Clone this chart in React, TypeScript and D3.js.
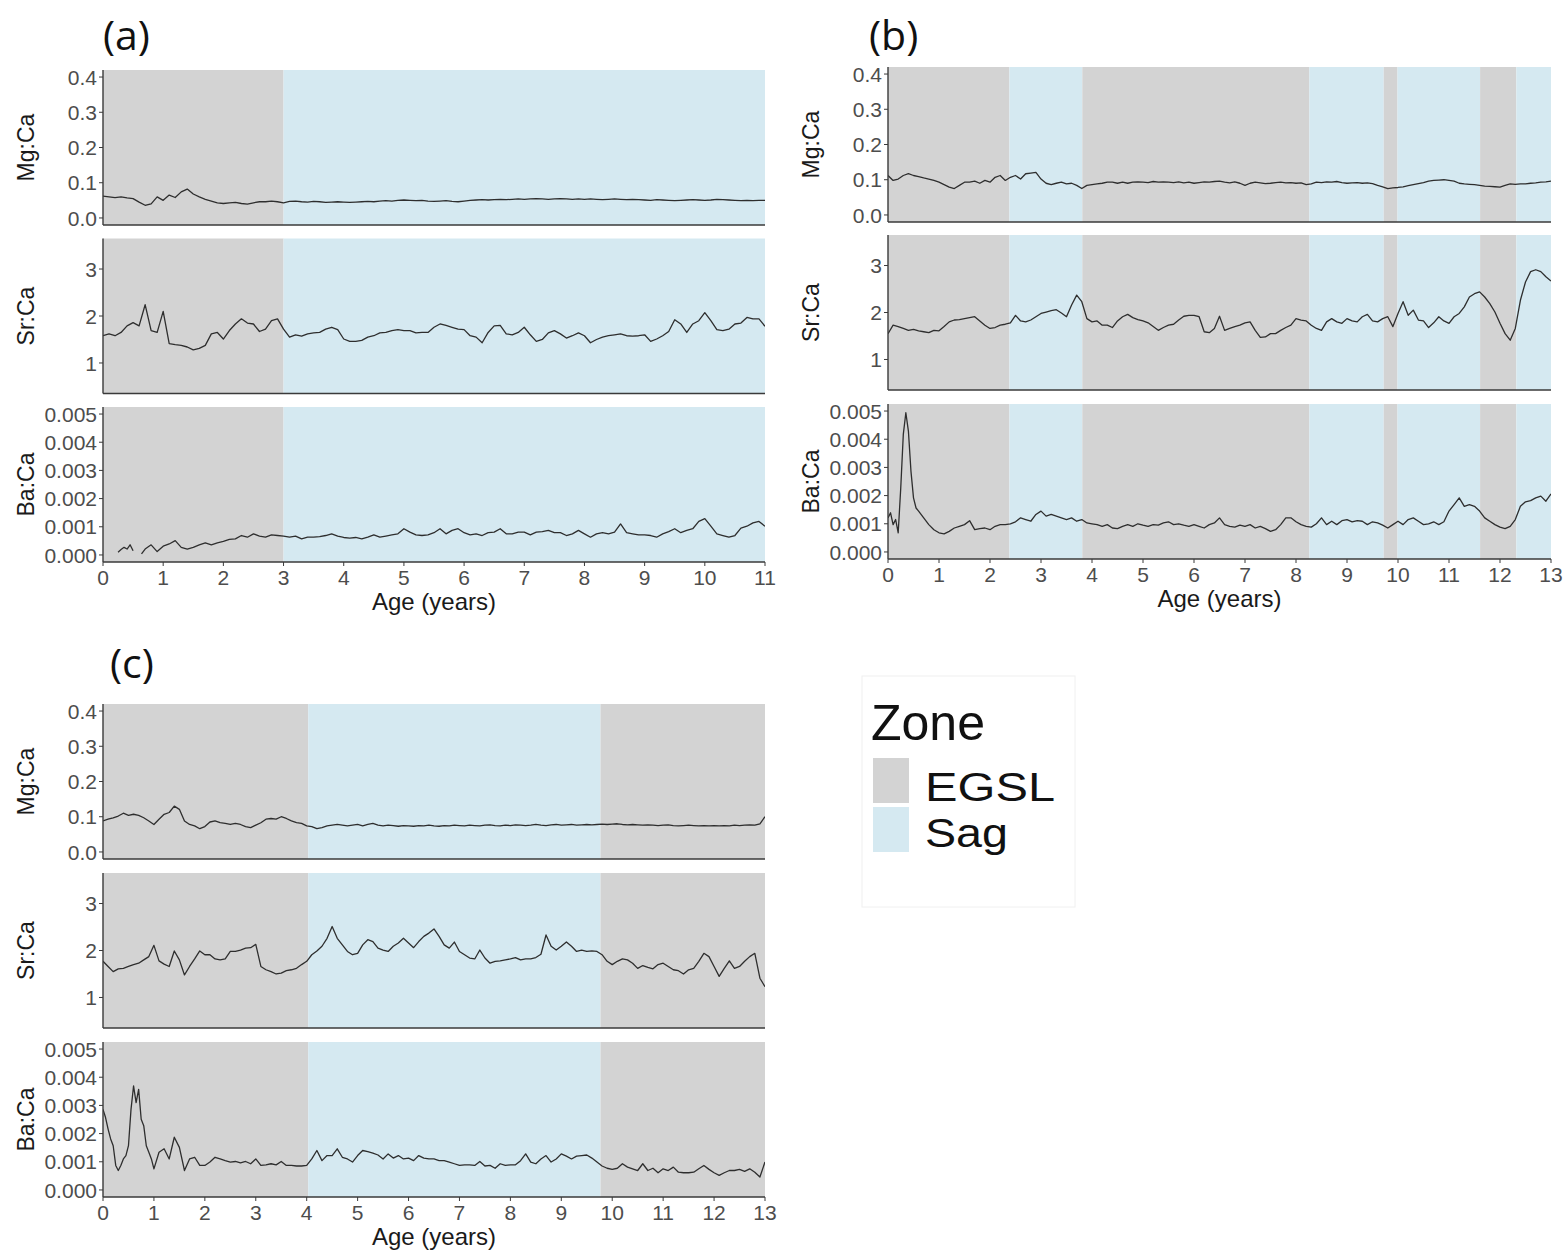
import React from "react";
import * as d3 from "d3";

// ---------------- DATA ----------------
const ZONE_NAMES = ["EGSL", "Sag"];
const VARIABLES = ["Mg:Ca", "Sr:Ca", "Ba:Ca"];
const MG_TICKS = [0, 0.1, 0.2, 0.3, 0.4];
const SR_TICKS = [1, 2, 3];
const BA_TICKS = [0, 0.001, 0.002, 0.003, 0.004, 0.005];
const AGE_TICKS_A = [0, 1, 2, 3, 4, 5, 6, 7, 8, 9, 10, 11];
const AGE_TICKS_BC = [0, 1, 2, 3, 4, 5, 6, 7, 8, 9, 10, 11, 12, 13];
const BA_UNIT = 0.001;
const STEP = 0.1;

// zones: [start, end, zone]
const ZONES_A: [number, number, string][] = [[0, 3.0, "EGSL"], [3.0, 11, "Sag"]];
const ZONES_B: [number, number, string][] = [
  [0, 2.38, "EGSL"], [2.38, 3.81, "Sag"], [3.81, 8.26, "EGSL"], [8.26, 9.72, "Sag"],
  [9.72, 9.99, "EGSL"], [9.99, 11.61, "Sag"], [11.61, 12.32, "EGSL"], [12.32, 13, "Sag"],
];
const ZONES_C: [number, number, string][] = [[0, 4.03, "EGSL"], [4.03, 9.77, "Sag"], [9.77, 13, "EGSL"]];

// Mg:Ca, sampled every 0.1 year from age 0
const MG_A = [
  0.062, 0.060, 0.058, 0.060, 0.057, 0.055, 0.045, 0.036, 0.040, 0.060,
  0.050, 0.065, 0.058, 0.074, 0.082, 0.068, 0.060, 0.053, 0.048, 0.043,
  0.041, 0.043, 0.044, 0.041, 0.039, 0.043, 0.046, 0.046, 0.048, 0.046,
  0.043, 0.047, 0.048, 0.046, 0.045, 0.047, 0.046, 0.044, 0.045, 0.046,
  0.045, 0.044, 0.045, 0.046, 0.047, 0.046, 0.048, 0.049, 0.048, 0.050,
  0.051, 0.050, 0.049, 0.050, 0.048, 0.047, 0.048, 0.049, 0.047, 0.046,
  0.048, 0.050, 0.051, 0.052, 0.051, 0.052, 0.053, 0.052, 0.053, 0.054,
  0.053, 0.054, 0.055, 0.054, 0.053, 0.054, 0.055, 0.054, 0.053, 0.054,
  0.053, 0.054, 0.053, 0.052, 0.053, 0.054, 0.053, 0.052, 0.053, 0.052,
  0.051, 0.050, 0.052, 0.051, 0.050, 0.049, 0.050, 0.051, 0.052, 0.051,
  0.050, 0.051, 0.053, 0.052, 0.051, 0.050, 0.049, 0.050, 0.049, 0.050,
  0.050,
];
const MG_B = [
  0.112, 0.098, 0.102, 0.112, 0.117, 0.112, 0.109, 0.105, 0.102, 0.098,
  0.093, 0.086, 0.079, 0.075, 0.084, 0.093, 0.093, 0.096, 0.090, 0.098,
  0.093, 0.107, 0.112, 0.098, 0.107, 0.112, 0.102, 0.117, 0.119, 0.121,
  0.102, 0.090, 0.086, 0.090, 0.093, 0.088, 0.090, 0.084, 0.075, 0.084,
  0.086, 0.088, 0.090, 0.093, 0.093, 0.090, 0.093, 0.090, 0.093, 0.094,
  0.093, 0.092, 0.095, 0.093, 0.094, 0.093, 0.092, 0.094, 0.091, 0.093,
  0.090, 0.092, 0.094, 0.093, 0.095, 0.096, 0.093, 0.091, 0.094, 0.090,
  0.084, 0.090, 0.093, 0.091, 0.089, 0.090, 0.092, 0.093, 0.091, 0.092,
  0.090, 0.091, 0.086, 0.088, 0.093, 0.092, 0.094, 0.093, 0.095, 0.092,
  0.090, 0.091, 0.092, 0.090, 0.091, 0.089, 0.084, 0.080, 0.075, 0.077,
  0.078, 0.080, 0.083, 0.086, 0.089, 0.092, 0.096, 0.098, 0.099, 0.100,
  0.098, 0.096, 0.090, 0.088, 0.087, 0.086, 0.084, 0.082, 0.081, 0.080,
  0.079, 0.084, 0.088, 0.087, 0.088, 0.088, 0.090, 0.091, 0.093, 0.094,
  0.096,
];
const MG_C = [
  0.088, 0.093, 0.097, 0.102, 0.110, 0.104, 0.107, 0.104, 0.097, 0.088,
  0.078, 0.093, 0.107, 0.112, 0.130, 0.121, 0.088, 0.078, 0.074, 0.066,
  0.072, 0.085, 0.088, 0.083, 0.081, 0.078, 0.081, 0.078, 0.072, 0.069,
  0.076, 0.083, 0.093, 0.095, 0.093, 0.100, 0.095, 0.088, 0.083, 0.081,
  0.074, 0.072, 0.066, 0.069, 0.074, 0.076, 0.078, 0.076, 0.074, 0.076,
  0.078, 0.074, 0.078, 0.081, 0.076, 0.074, 0.076, 0.075, 0.073, 0.075,
  0.074, 0.073, 0.075, 0.074, 0.076, 0.074, 0.073, 0.075, 0.074, 0.076,
  0.075, 0.074, 0.076, 0.075, 0.074, 0.076, 0.077, 0.075, 0.074, 0.076,
  0.075, 0.077, 0.076, 0.075, 0.076, 0.078, 0.076, 0.075, 0.077, 0.078,
  0.076, 0.077, 0.078, 0.076, 0.077, 0.078, 0.077, 0.078, 0.079, 0.078,
  0.079, 0.080, 0.078, 0.077, 0.078, 0.077, 0.076, 0.077, 0.076, 0.075,
  0.076, 0.077, 0.075, 0.074, 0.075, 0.076, 0.075, 0.074, 0.075, 0.074,
  0.075, 0.074, 0.075, 0.074, 0.076, 0.075, 0.076, 0.077, 0.076, 0.080,
  0.100,
];

// Sr:Ca, every 0.1 year from age 0
const SR_A = [
  1.58, 1.62, 1.58, 1.65, 1.79, 1.86, 1.79, 2.24, 1.69, 1.65,
  2.10, 1.41, 1.39, 1.375, 1.34, 1.28, 1.31, 1.375, 1.62, 1.65,
  1.51, 1.69, 1.83, 1.94, 1.85, 1.83, 1.67, 1.72, 1.90, 1.94,
  1.72, 1.55, 1.60, 1.57, 1.62, 1.64, 1.65, 1.72, 1.76, 1.71,
  1.51, 1.46, 1.46, 1.48, 1.55, 1.58, 1.64, 1.65, 1.69, 1.71,
  1.69, 1.69, 1.64, 1.65, 1.65, 1.76, 1.83, 1.80, 1.76, 1.72,
  1.71, 1.58, 1.55, 1.43, 1.65, 1.79, 1.80, 1.62, 1.60, 1.65,
  1.76, 1.60, 1.46, 1.50, 1.64, 1.69, 1.62, 1.53, 1.58, 1.64,
  1.58, 1.43, 1.50, 1.55, 1.58, 1.60, 1.62, 1.58, 1.57, 1.58,
  1.60, 1.46, 1.51, 1.58, 1.67, 1.92, 1.83, 1.65, 1.83, 1.90,
  2.07, 1.90, 1.71, 1.69, 1.72, 1.83, 1.85, 1.97, 1.94, 1.94,
  1.78,
];
const SR_B = [
  1.55, 1.73, 1.70, 1.66, 1.62, 1.64, 1.61, 1.59, 1.57, 1.62,
  1.61, 1.70, 1.80, 1.84, 1.85, 1.87, 1.89, 1.91, 1.82, 1.73,
  1.66, 1.68, 1.73, 1.75, 1.78, 1.94, 1.82, 1.80, 1.84, 1.91,
  1.98, 2.01, 2.04, 2.06, 1.99, 1.91, 2.16, 2.37, 2.23, 1.87,
  1.80, 1.82, 1.73, 1.73, 1.68, 1.82, 1.91, 1.96, 1.89, 1.85,
  1.82, 1.78, 1.70, 1.62, 1.68, 1.73, 1.75, 1.84, 1.92, 1.94,
  1.94, 1.91, 1.59, 1.57, 1.66, 1.92, 1.62, 1.66, 1.70, 1.73,
  1.78, 1.80, 1.62, 1.47, 1.48, 1.55, 1.55, 1.62, 1.68, 1.73,
  1.87, 1.84, 1.82, 1.73, 1.66, 1.62, 1.80, 1.87, 1.80, 1.77,
  1.87, 1.82, 1.80, 1.91, 1.96, 1.82, 1.80, 1.87, 1.91, 1.70,
  1.98, 2.23, 1.94, 2.05, 1.84, 1.82, 1.68, 1.78, 1.91, 1.82,
  1.77, 1.91, 1.98, 2.12, 2.33, 2.40, 2.44, 2.33, 2.19, 2.01,
  1.77, 1.55, 1.41, 1.66, 2.26, 2.65, 2.87, 2.91, 2.87, 2.76,
  2.67,
];
const SR_C = [
  1.77, 1.66, 1.55, 1.61, 1.62, 1.66, 1.70, 1.73, 1.80, 1.87,
  2.11, 1.78, 1.71, 1.66, 1.99, 1.80, 1.48, 1.66, 1.82, 1.99,
  1.91, 1.91, 1.82, 1.80, 1.82, 1.98, 1.98, 2.01, 2.05, 2.06,
  2.13, 1.66, 1.59, 1.55, 1.50, 1.52, 1.57, 1.59, 1.62, 1.70,
  1.77, 1.91, 1.99, 2.09, 2.26, 2.51, 2.26, 2.12, 1.98, 1.91,
  1.94, 2.12, 2.23, 2.19, 2.05, 2.01, 1.98, 2.09, 2.16, 2.26,
  2.16, 2.06, 2.19, 2.30, 2.37, 2.46, 2.30, 2.12, 2.05, 2.18,
  1.98, 1.91, 1.84, 1.82, 2.01, 1.84, 1.73, 1.77, 1.78, 1.80,
  1.82, 1.85, 1.80, 1.82, 1.82, 1.85, 1.92, 2.33, 2.09, 2.01,
  2.09, 2.18, 2.09, 1.98, 2.01, 1.98, 1.99, 1.98, 1.91, 1.77,
  1.70, 1.77, 1.82, 1.80, 1.73, 1.62, 1.68, 1.64, 1.61, 1.70,
  1.73, 1.66, 1.59, 1.57, 1.50, 1.59, 1.62, 1.77, 1.94, 1.87,
  1.66, 1.45, 1.62, 1.78, 1.62, 1.66, 1.77, 1.87, 1.94, 1.41,
  1.23,
];

// Ba:Ca in units of 0.001; early part as [age, value] pairs (null = gap)
const BA_A_EARLY: [number, number | null][] = [
  [0.25, 0.10], [0.30, 0.19], [0.35, 0.27], [0.40, 0.21], [0.45, 0.36], [0.50, 0.15],
  [0.57, null], [0.64, 0.04], [0.70, 0.21], [0.80, 0.36], [0.90, 0.12],
];
const BA_A_START = 1.0;
const BA_A = [
  0.31, 0.39, 0.51, 0.27, 0.21, 0.27, 0.36, 0.43, 0.36, 0.43,
  0.48, 0.55, 0.57, 0.69, 0.63, 0.75, 0.67, 0.63, 0.71, 0.69,
  0.67, 0.63, 0.67, 0.57, 0.63, 0.63, 0.65, 0.69, 0.75, 0.67,
  0.62, 0.60, 0.62, 0.57, 0.63, 0.71, 0.63, 0.67, 0.71, 0.75,
  0.93, 0.81, 0.71, 0.69, 0.71, 0.79, 0.93, 0.75, 0.87, 0.93,
  0.79, 0.71, 0.75, 0.69, 0.79, 0.81, 0.93, 0.75, 0.75, 0.81,
  0.81, 0.71, 0.81, 0.83, 0.87, 0.79, 0.79, 0.69, 0.75, 0.87,
  0.75, 0.63, 0.75, 0.79, 0.75, 0.81, 1.10, 0.79, 0.75, 0.71,
  0.71, 0.69, 0.63, 0.75, 0.83, 0.93, 0.79, 0.87, 0.93, 1.19,
  1.29, 1.02, 0.75, 0.69, 0.63, 0.69, 0.95, 1.02, 1.14, 1.19,
  1.02,
];
const BA_B_EARLY: [number, number | null][] = [
  [0, 1.21], [0.05, 1.39], [0.1, 0.97], [0.15, 1.15], [0.2, 0.68], [0.25, 2.27],
  [0.3, 4.17], [0.35, 4.94], [0.4, 4.29], [0.45, 2.87], [0.5, 1.92], [0.55, 1.56],
];
const BA_B_START = 0.6;
const BA_B = [
  1.45, 1.21, 0.97, 0.79,
  0.68, 0.64, 0.73, 0.85, 0.91, 0.97, 1.11, 0.79, 0.83, 0.85,
  0.79, 0.91, 0.97, 0.97, 1.00, 1.07, 1.21, 1.15, 1.09, 1.33,
  1.45, 1.27, 1.33, 1.27, 1.21, 1.15, 1.21, 1.09, 1.15, 1.03,
  1.00, 0.97, 0.91, 0.97, 0.85, 0.83, 0.91, 0.97, 0.91, 1.00,
  0.95, 0.91, 0.97, 0.95, 1.03, 1.07, 0.97, 1.00, 0.95, 0.91,
  0.97, 0.91, 0.85, 0.97, 1.03, 1.21, 0.97, 0.91, 0.88, 0.95,
  0.91, 0.97, 0.85, 0.91, 0.83, 0.73, 0.79, 0.97, 1.21, 1.21,
  1.07, 0.97, 0.91, 0.88, 1.00, 1.21, 0.97, 1.09, 0.97, 1.11,
  1.15, 1.07, 1.11, 1.09, 0.97, 1.07, 1.03, 0.95, 0.85, 0.97,
  1.09, 0.97, 1.15, 1.21, 1.09, 0.97, 1.00, 1.07, 0.97, 1.07,
  1.45, 1.68, 1.92, 1.62, 1.68, 1.62, 1.45, 1.21, 1.09, 0.97,
  0.88, 0.83, 0.91, 1.15, 1.62, 1.78, 1.82, 1.92, 1.98, 1.80,
  2.06,
];
const BA_C_EARLY: [number, number | null][] = [
  [0, 2.86], [0.05, 2.57], [0.1, 2.16], [0.15, 1.81], [0.2, 1.57], [0.25, 0.87],
  [0.3, 0.69], [0.35, 0.87], [0.4, 1.1], [0.45, 1.22], [0.5, 1.57], [0.55, 2.86],
  [0.6, 3.69], [0.65, 3.1], [0.7, 3.57], [0.75, 2.51], [0.8, 2.28], [0.85, 1.57],
  [0.9, 1.34], [0.95, 1.1],
];
const BA_C_START = 1.0;
const BA_C = [
  0.75, 1.34, 1.46, 1.10, 1.87, 1.51, 0.69, 1.10, 1.16, 0.87,
  0.87, 0.99, 1.16, 1.10, 1.04, 0.99, 1.01, 0.96, 1.01, 0.93,
  1.10, 0.87, 0.89, 0.93, 0.89, 1.01, 0.87, 0.87, 0.85, 0.85,
  0.87, 1.10, 1.40, 1.04, 1.22, 1.22, 1.46, 1.16, 1.10, 0.99,
  1.22, 1.40, 1.36, 1.31, 1.24, 1.10, 1.28, 1.13, 1.22, 1.10,
  1.13, 1.04, 1.22, 1.13, 1.10, 1.10, 1.04, 1.04, 0.99, 0.93,
  0.87, 0.89, 0.89, 0.87, 1.01, 0.85, 0.87, 0.77, 0.93, 0.87,
  0.89, 0.89, 1.04, 1.28, 0.99, 0.93, 1.10, 1.22, 0.99, 1.10,
  1.28, 1.20, 1.10, 1.20, 1.22, 1.24, 1.13, 0.99, 0.85, 0.77,
  0.73, 0.77, 0.93, 0.81, 0.75, 0.69, 0.93, 0.69, 0.77, 0.61,
  0.75, 0.69, 0.81, 0.63, 0.61, 0.61, 0.63, 0.75, 0.87, 0.73,
  0.61, 0.52, 0.61, 0.69, 0.69, 0.73, 0.66, 0.75, 0.63, 0.46,
  0.99,
];

// ---------------- helpers ----------------
type Pt = { age: number; v: number | null };
const regular = (start: number, vals: number[], scale = 1): Pt[] =>
  vals.map((v, i) => ({ age: +(start + i * STEP).toFixed(3), v: v * scale }));
const pairs = (p: [number, number | null][], scale = 1): Pt[] =>
  p.map(([a, v]) => ({ age: a, v: v === null ? null : v * scale }));

const VAR_SPECS = [
  { name: VARIABLES[0], domain: [-0.02, 0.42], ticks: MG_TICKS, fmt: d3.format(".1f") },
  { name: VARIABLES[1], domain: [0.35, 3.65], ticks: SR_TICKS, fmt: d3.format("d") },
  { name: VARIABLES[2], domain: [-0.00025, 0.00525], ticks: BA_TICKS, fmt: d3.format(".3f") },
];

const PANELS = [
  {
    label: "(a)", lx: 103, ly: 50, x0: 103, x1: 765, tops: [70, 238.5, 407], h: 155,
    xmax: 11, xticks: AGE_TICKS_A, zones: ZONES_A,
    series: [regular(0, MG_A), regular(0, SR_A), [...pairs(BA_A_EARLY, BA_UNIT), ...regular(BA_A_START, BA_A, BA_UNIT)]],
  },
  {
    label: "(b)", lx: 869, ly: 50, x0: 888, x1: 1551, tops: [67, 235, 404], h: 155,
    xmax: 13, xticks: AGE_TICKS_BC, zones: ZONES_B,
    series: [regular(0, MG_B), regular(0, SR_B), [...pairs(BA_B_EARLY, BA_UNIT), ...regular(BA_B_START, BA_B, BA_UNIT)]],
  },
  {
    label: "(c)", lx: 110, ly: 678, x0: 103, x1: 765, tops: [704, 873, 1042], h: 155,
    xmax: 13, xticks: AGE_TICKS_BC, zones: ZONES_C,
    series: [regular(0, MG_C), regular(0, SR_C), [...pairs(BA_C_EARLY, BA_UNIT), ...regular(BA_C_START, BA_C, BA_UNIT)]],
  },
];

const ZONE_COLOR: Record<string, string> = { EGSL: "#d3d3d3", Sag: "#d5e9f1" };
const AXIS = "#3a3a3a";
const TICK_TXT = "#4d4d4d";
const FONT = "'Liberation Sans', Arial, sans-serif";

function Panel({ p, idx }: { p: typeof PANELS[number]; idx: number }) {
  const x = d3.scaleLinear().domain([0, p.xmax]).range([p.x0, p.x1]);
  const lastBottom = p.tops[2] + p.h;
  return (
    <g>
      <text x={p.lx} y={p.ly} fontFamily="'Open Sans', 'Noto Sans', sans-serif" fontSize={41} fill="#111">
        {p.label}
      </text>
      {VAR_SPECS.map((spec, fi) => {
        const top = p.tops[fi];
        const bottom = top + p.h;
        const y = d3.scaleLinear().domain(spec.domain).range([bottom, top]);
        const line = d3
          .line<Pt>()
          .defined((d) => d.v !== null)
          .x((d) => x(d.age))
          .y((d) => y(d.v as number));
        const clipId = `clip-${idx}-${fi}`;
        return (
          <g key={fi}>
            <defs>
              <clipPath id={clipId}>
                <rect x={p.x0} y={top} width={p.x1 - p.x0} height={p.h} />
              </clipPath>
            </defs>
            {p.zones.map(([a, b, z], zi) => (
              <rect key={zi} x={x(a)} y={top} width={x(b) - x(a)} height={p.h} fill={ZONE_COLOR[z]} />
            ))}
            <path
              d={line(p.series[fi]) || ""}
              fill="none"
              stroke="#2e2e2e"
              strokeWidth={1.3}
              strokeLinejoin="round"
              clipPath={`url(#${clipId})`}
            />
            <line x1={p.x0} x2={p.x0} y1={top} y2={bottom} stroke={AXIS} strokeWidth={1.4} />
            <line x1={p.x0} x2={p.x1} y1={bottom} y2={bottom} stroke={AXIS} strokeWidth={1.6} />
            {spec.ticks.map((t) => (
              <g key={t}>
                <line x1={p.x0 - 4} x2={p.x0} y1={y(t)} y2={y(t)} stroke={AXIS} strokeWidth={1} />
                <text
                  x={p.x0 - 6}
                  y={y(t)}
                  dy="0.36em"
                  textAnchor="end"
                  fontFamily={FONT}
                  fontSize={21}
                  fill={TICK_TXT}
                >
                  {spec.fmt(t)}
                </text>
              </g>
            ))}
            <text
              transform={`translate(${p.x0 - 69},${(top + bottom) / 2}) rotate(-90)`}
              textAnchor="middle"
              fontFamily={FONT}
              fontSize={23}
              fill="#1a1a1a"
            >
              {spec.name}
            </text>
          </g>
        );
      })}
      {p.xticks.map((t) => (
        <g key={t}>
          <line x1={x(t)} x2={x(t)} y1={lastBottom} y2={lastBottom + 4} stroke={AXIS} strokeWidth={1} />
          <text x={x(t)} y={lastBottom + 23} textAnchor="middle" fontFamily={FONT} fontSize={21} fill={TICK_TXT}>
            {t}
          </text>
        </g>
      ))}
      <text
        x={(p.x0 + p.x1) / 2}
        y={lastBottom + 48}
        textAnchor="middle"
        fontFamily={FONT}
        fontSize={24}
        fill="#1a1a1a"
      >
        Age (years)
      </text>
    </g>
  );
}

const LEGEND_TEXT_WIDTH: Record<string, number> = { EGSL: 130, Sag: 83 };

export default function App() {
  return (
    <svg
      width={1565}
      height={1253}
      style={{ position: "absolute", left: 0, top: 0, background: "#fff" }}
    >
      <rect width={1565} height={1253} fill="#fff" />
      {PANELS.map((p, i) => (
        <Panel key={i} p={p} idx={i} />
      ))}
      {/* legend */}
      <g>
        <rect x={862} y={676} width={213} height={231} fill="#fff" stroke="#f0f0f0" strokeWidth={1} />
        <text x={871} y={740} fontFamily={FONT} fontSize={50} fill="#111">
          Zone
        </text>
        {ZONE_NAMES.map((z, i) => (
          <g key={z}>
            <rect x={873} y={758 + i * 49} width={36} height={45} fill={ZONE_COLOR[z]} />
            <text
              x={925}
              y={801 + i * 46}
              fontFamily={FONT}
              fontSize={40}
              textLength={LEGEND_TEXT_WIDTH[z]}
              lengthAdjust="spacingAndGlyphs"
              fill="#111"
            >
              {z}
            </text>
          </g>
        ))}
      </g>
    </svg>
  );
}
